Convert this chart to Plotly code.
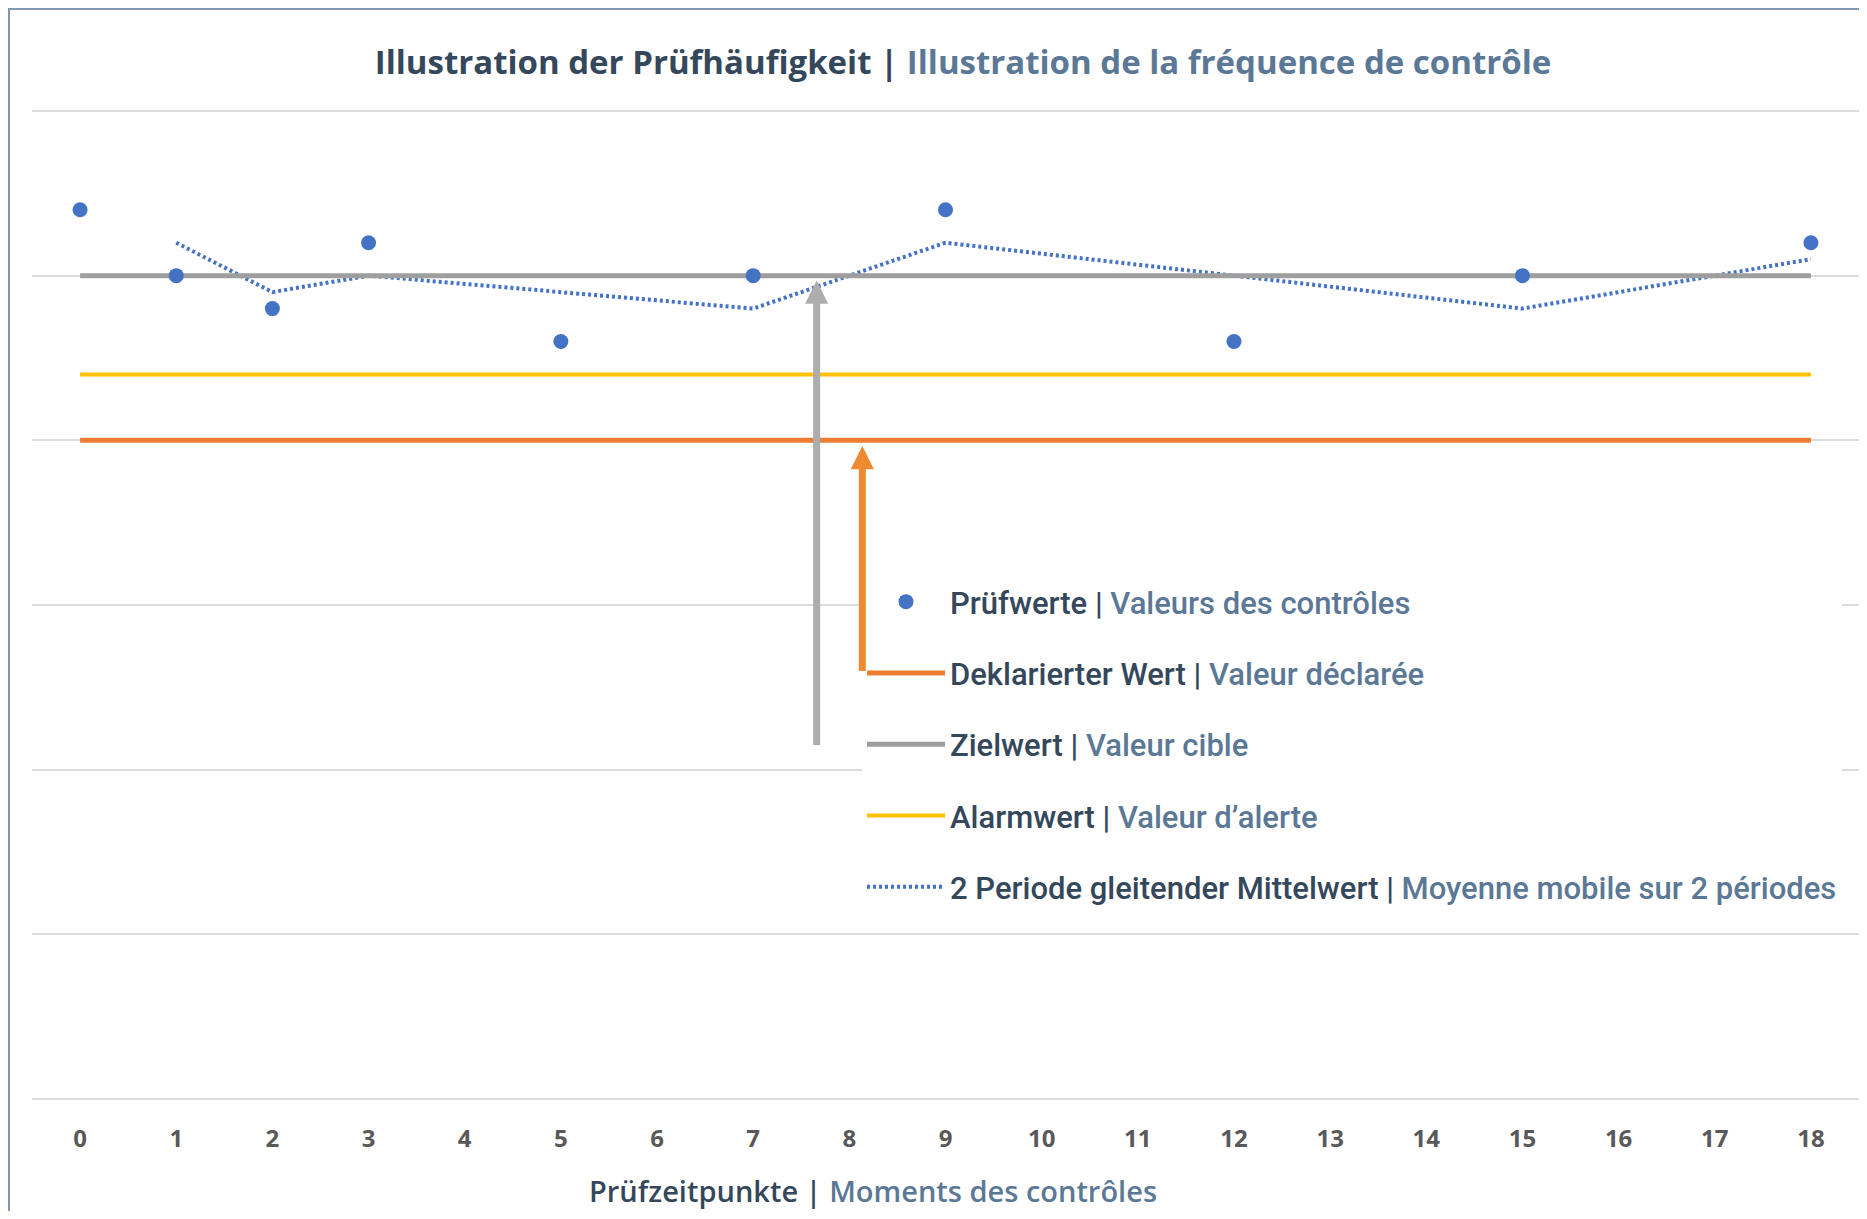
import plotly.graph_objects as go

# ---- data ----
x_ticks = list(range(19))
tick_labels = [str(v) for v in x_ticks]

check_x = [0, 1, 2, 3, 5, 7, 9, 12, 15, 18]
check_y = [5.4, 5.0, 4.8, 5.2, 4.6, 5.0, 5.4, 4.6, 5.0, 5.2]

ma_x = [1, 2, 3, 5, 7, 9, 12, 15, 18]
ma_y = [5.2, 4.9, 5.0, 4.9, 4.8, 5.2, 5.0, 4.8, 5.1]

line_x = [0, 18]
declared_y = [4.0, 4.0]
target_y = [5.0, 5.0]
alarm_y = [4.4, 4.4]

# arrows (data coordinates): x, y_from, y_to
gray_arrow = [7.66, 2.14, 4.97]
orange_arrow = [8.135, 2.59, 3.965]

DE = "#34475b"
FR = "#5b7896"

W, H = 1851, 1203
ML, MR, MT, MB = 24, 0, 101, 110
PW, PH = W - ML - MR, H - MT - MB


def lbl(de, fr):
    return f"{de} | <span style='color:{FR}'>{fr}</span>"


fig = go.Figure()

fig.add_trace(go.Scatter(x=line_x, y=declared_y, mode="lines",
                         line=dict(color="#ed7d31", width=5),
                         name=lbl("Deklarierter Wert", "Valeur déclarée"),
                         legendgroup="b", legendrank=2))
fig.add_trace(go.Scatter(x=line_x, y=alarm_y, mode="lines",
                         line=dict(color="#ffc000", width=4),
                         name=lbl("Alarmwert", "Valeur d’alerte"),
                         legendgroup="d", legendrank=4))
fig.add_trace(go.Scatter(x=ma_x, y=ma_y, mode="lines",
                         line=dict(color="#4472c4", width=4, dash="3px,3px"),
                         name=lbl("2 Periode gleitender Mittelwert", "Moyenne mobile sur 2 périodes"),
                         legendgroup="e", legendrank=5))
fig.add_trace(go.Scatter(x=line_x, y=target_y, mode="lines",
                         line=dict(color="#9e9e9e", width=5),
                         name=lbl("Zielwert", "Valeur cible"),
                         legendgroup="c", legendrank=3))
fig.add_trace(go.Scatter(x=check_x, y=check_y, mode="markers",
                         marker=dict(color="#4472c4", size=15),
                         name=lbl("Prüfwerte", "Valeurs des contrôles"),
                         legendgroup="a", legendrank=1))

# arrows
fig.add_annotation(x=gray_arrow[0], y=gray_arrow[2], ax=gray_arrow[0], ay=gray_arrow[1],
                   xref="x", yref="y", axref="x", ayref="y", text="", showarrow=True,
                   arrowhead=2, arrowsize=0.66, arrowwidth=7, arrowcolor="#adadad")
fig.add_annotation(x=orange_arrow[0], y=orange_arrow[2], ax=orange_arrow[0], ay=orange_arrow[1],
                   xref="x", yref="y", axref="x", ayref="y", text="", showarrow=True,
                   arrowhead=2, arrowsize=0.66, arrowwidth=7, arrowcolor="#f08a30")

# axis title as annotation
fig.add_annotation(x=(865 - ML) / PW, y=(MT + PH - 1182) / PH, xref="paper", yref="paper",
                   showarrow=False, xanchor="center", yanchor="middle",
                   text=f"Prüfzeitpunkte | <span style='color:{FR}'>Moments des contrôles</span>",
                   font=dict(family="Open Sans", size=29, color=DE, weight=600))

# outer border (left and top)
fig.add_shape(type="rect", xref="paper", yref="paper",
              x0=(1 - ML) / PW, x1=1.2, y0=(MT + PH - 1) / PH, y1=-0.3,
              line=dict(color="#8097b0", width=2), layer="below")

fig.update_layout(
    width=W, height=H,
    margin=dict(l=ML, r=MR, t=MT, b=MB, pad=0, autoexpand=False),
    paper_bgcolor="white", plot_bgcolor="white",
    title=dict(text=f"Illustration der Prüfhäufigkeit | <span style='color:{FR}'>Illustration de la fréquence de contrôle</span>",
               x=(955 - ML) / PW, xref="paper", xanchor="center", y=1 - 54 / H, yanchor="middle",
               font=dict(family="Open Sans", size=33, color=DE, weight=700)),
    xaxis=dict(range=[-0.5, 18.5], tickmode="array", tickvals=x_ticks, ticktext=tick_labels,
               showgrid=False, zeroline=False, showline=False,
               tickfont=dict(family="Open Sans", size=24, color="#595959", weight=700),
               ticklabelstandoff=21),
    yaxis=dict(range=[-0.012, 6.012], tickmode="array", tickvals=[0, 1, 2, 3, 4, 5, 6],
               showticklabels=False, showgrid=True,
               gridcolor="#dcdcdc", gridwidth=2, zeroline=False, showline=False),
    legend=dict(x=(854 - ML) / PW, xanchor="left", y=(MT + PH - 567) / PH, yanchor="top",
                bgcolor="rgba(255,255,255,1)", borderwidth=0,
                font=dict(family="Roboto", size=31, color=DE, weight=500),
                itemwidth=78, tracegroupgap=28, traceorder="grouped"),
    showlegend=True,
)

fig.write_html("out.html")
